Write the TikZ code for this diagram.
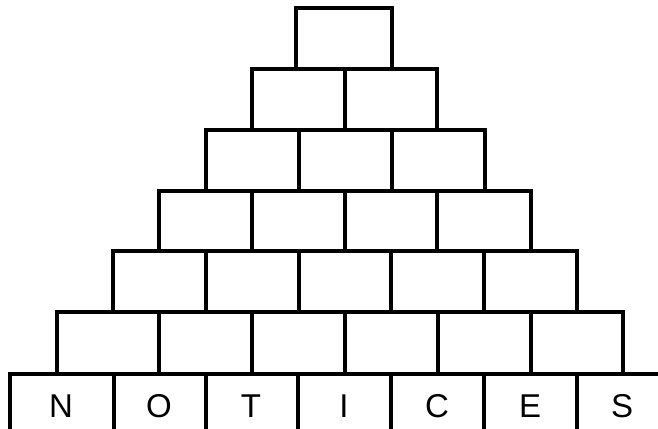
\documentclass[tikz,border=0pt]{standalone}
\usepackage{fontspec}
\setmainfont{Liberation Sans}
\begin{document}
\begin{tikzpicture}[x=1pt,y=-1pt,
  cell/.style={line width=3.5pt, line join=miter},
  letter/.style={font=\fontsize{33}{33}\selectfont, anchor=base, inner sep=0pt}]
\useasboundingbox (0,0) rectangle (658,428);
\fill[white] (0,0) rectangle (658,428);
\clip (0,0) rectangle (658,428);
% row 1
\draw[cell] (296,8) rectangle (392,69);
% row 2
\draw[cell] (252,69) rectangle (437,130) (345,69) -- (345,130);
% row 3
\draw[cell] (206,130) rectangle (485,191) (299,130) -- (299,191) (392,130) -- (392,191);
% row 4
\draw[cell] (159,191) rectangle (531,251) \foreach \x in {252,345,437} {(\x,191) -- (\x,251)};
% row 5
\draw[cell] (113,251) rectangle (577,312) \foreach \x in {206,299,391,484} {(\x,251) -- (\x,312)};
% row 6
\draw[cell] (57,312) rectangle (623,374) \foreach \x in {159,252,345,438,531} {(\x,312) -- (\x,374)};
% row 7
\draw[cell] (10,374) rectangle (670,435) \foreach \x in {114,206,298,391,484,577} {(\x,374) -- (\x,435)};
% letters
\node[letter] (n) at (61,417.5) {N};
\node[letter] (o) at (159,417.5) {O};
\node[letter] (t) at (251,417.5) {T};
\node[letter] (i) at (344,417.5) {I};
\node[letter] (c) at (437,417.5) {C};
\node[letter] (e) at (530,417.5) {E};
\node[letter] (s) at (622,417.5) {S};
\end{tikzpicture}
\end{document}
